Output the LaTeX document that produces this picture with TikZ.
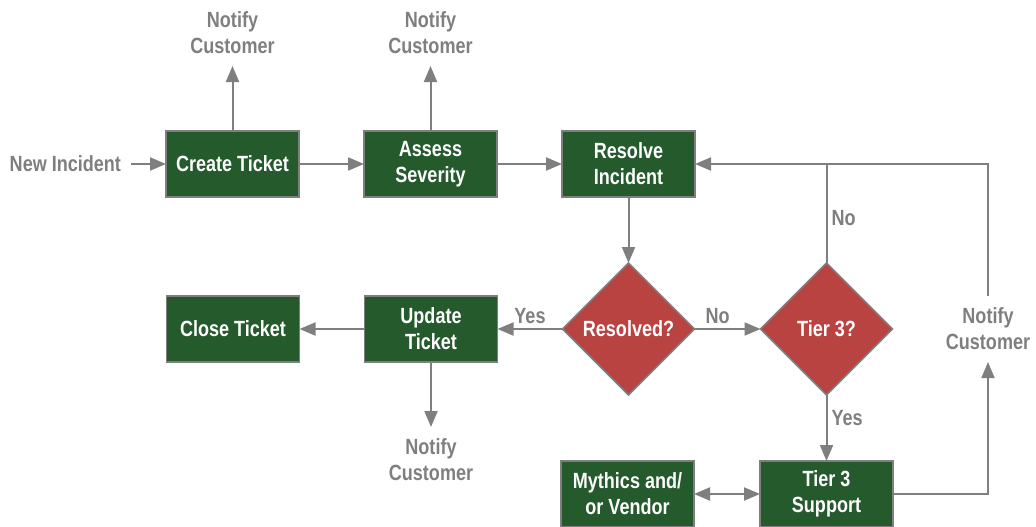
\documentclass[tikz,border=0pt]{standalone}
\usepackage{fontspec}
\setmainfont{Liberation Sans}[FakeStretch=0.82]
\usetikzlibrary{arrows.meta,positioning,shapes.geometric}
\definecolor{boxgreen}{HTML}{255A2D}
\definecolor{diared}{HTML}{B94340}
\definecolor{linegray}{HTML}{7F7F7F}
\begin{document}
\begin{tikzpicture}[x=1pt, y=-1pt,
  >={Triangle[length=16pt,width=13pt]}, node distance=65pt,
  every node/.style={font=\fontsize{22}{26}\selectfont\bfseries},
  box/.style={draw=linegray, line width=1.5pt, fill=boxgreen, text=white, minimum width=133pt, minimum height=66pt, inner sep=0pt, outer sep=0pt, align=center},
  dia/.style={diamond, shape aspect=1, draw=linegray, line width=1.5pt, fill=diared, text=white, minimum width=132pt, minimum height=132pt, inner sep=0pt, outer sep=0pt},
  txt/.style={text=linegray, inner sep=0pt, outer sep=12pt, align=center},
  lab/.style={text=linegray, inner sep=4pt},
  conn/.style={draw=linegray, line width=2pt}]
  \useasboundingbox (0,0) rectangle (1036,527);
  \node[box] (create) at (232.5,164) {Create Ticket};
  \node[box, right=of create] (assess) {Assess\\ Severity};
  \node[box, right=of assess] (resolve) {Resolve\\ Incident};
  \node[dia, below=66pt of resolve] (resolved) {Resolved?};
  \node[dia, right=66pt of resolved] (tier) {Tier 3?};
  \node[box, left=of resolved] (update) {Update\\ Ticket};
  \node[box, left=of update] (close) {Close Ticket};
  \node[box, below=66pt of tier] (support) {Tier 3\\ Support};
  \node[box, left=66pt of support] (vendor) {Mythics and/\\ or Vendor};
  \node[txt, outer sep=10pt, left=35pt of create] (new) {New Incident};
  \node[txt, above=65pt of create] (notA) {Notify\\ Customer};
  \node[txt, above=65pt of assess] (notB) {Notify\\ Customer};
  \node[txt, below=65pt of update] (notC) {Notify\\ Customer};
  \node[txt] (notD) at (988,329) {Notify\\ Customer};
  % main flow
  \draw[conn, ->] (new) -- (create);
  \draw[conn, ->] (create) -- (assess);
  \draw[conn, ->] (assess) -- (resolve);
  \draw[conn, ->] (resolve) -- (resolved);
  \draw[conn, ->] (resolved) -- node[lab, above]{Yes} (update);
  \draw[conn, ->] (resolved) -- node[lab, above, pos=0.35]{No} (tier);
  \draw[conn, ->] (update) -- (close);
  \draw[conn, ->] (tier) -- node[lab, right, pos=0.35]{Yes} (support);
  \draw[conn, <->] (vendor) -- (support);
  % notifications
  \draw[conn, ->] (create) -- (notA);
  \draw[conn, ->] (assess) -- (notB);
  \draw[conn, ->] (update) -- (notC);
  \draw[conn, ->] (support) -| (notD);
  \draw[conn, ->] (notD) |- (resolve);
  \draw[conn] (tier.north) -- node[lab, right, pos=0.45]{No} (tier.north |- resolve.east);
\end{tikzpicture}
\end{document}
